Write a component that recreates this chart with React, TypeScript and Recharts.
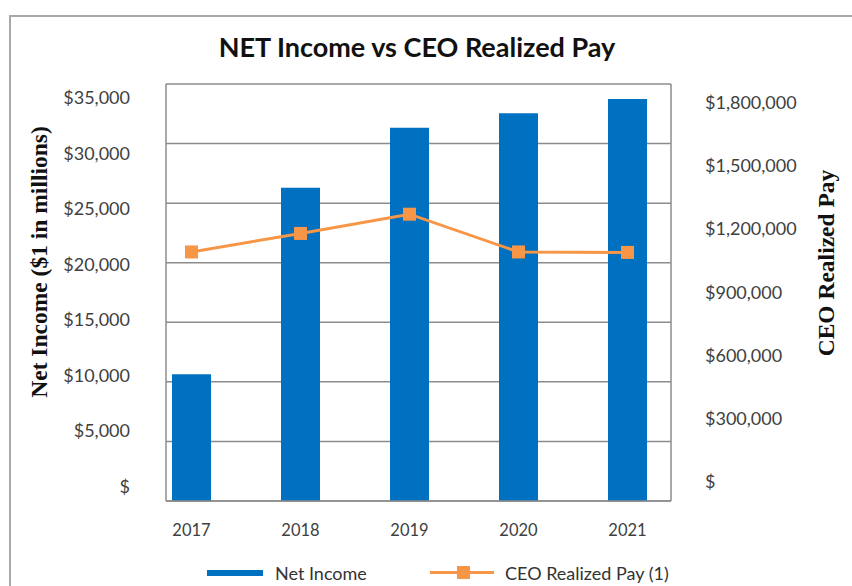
import React from "react";
import { ComposedChart, Bar, Line, XAxis, YAxis, CartesianGrid } from "recharts";

const years = ["2017", "2018", "2019", "2020", "2021"];
const netIncome = [10640, 26290, 31330, 32540, 33740];
const ceoPay = [1075000, 1155000, 1238000, 1075000, 1073000];
const leftTicks = [0, 5000, 10000, 15000, 20000, 25000, 30000, 35000];
const rightTicks = [0, 300000, 600000, 900000, 1200000, 1500000, 1800000];

const data = years.map((y, i) => ({ year: y, net: netIncome[i], ceo: ceoPay[i] }));

const BLUE = "#0070C0";
const ORANGE = "#F79646";
const GRID = "#8c8c8c";
const TICK_COLOR = "#404040";
const SANS = "Lato, 'Open Sans', sans-serif";
const SERIF = "'Liberation Serif', 'DejaVu Serif', serif";

const fmt = (v: number) => (v === 0 ? "$" : "$" + v.toLocaleString("en-US"));

const PLOT_TOP = 84;
const PLOT_H = 417;

const LeftTick = (props: any) => {
  const { x, y, payload } = props;
  const yy = 98 + ((y - PLOT_TOP) * 389) / PLOT_H;
  return (
    <text x={x} y={yy} dy={6} textAnchor="end" fill={TICK_COLOR} fontSize={18} fontFamily={SANS}>
      {fmt(payload.value)}
    </text>
  );
};

const RightTick = (props: any) => {
  const { x, y, payload } = props;
  const yy = 103 + ((y - PLOT_TOP) * 379) / PLOT_H;
  return (
    <text x={x} y={yy} dy={6} textAnchor="start" fill={TICK_COLOR} fontSize={18} fontFamily={SANS}>
      {fmt(payload.value)}
    </text>
  );
};

const XTick = (props: any) => {
  const { x, y, payload } = props;
  return (
    <text x={x} y={y} dy={35} textAnchor="middle" fill={TICK_COLOR} fontSize={16.5} fontFamily={SANS}>
      {payload.value}
    </text>
  );
};

const SquareDot = (props: any) => {
  const { cx, cy, index } = props;
  if (cx == null || cy == null) return null;
  const s = 13;
  return <rect key={"d" + index} x={cx - s / 2} y={cy - s / 2} width={s} height={s} fill={ORANGE} />;
};

export default function App() {
  return (
    <div
      style={{
        position: "absolute",
        left: 0,
        top: 0,
        width: 852,
        height: 586,
        overflow: "hidden",
        background: "#fff",
      }}
    >
      <div
        style={{
          position: "absolute",
          left: 9,
          top: 15,
          width: 900,
          height: 700,
          border: "2px solid #a8a8a8",
          boxSizing: "border-box",
        }}
      />
      <div
        style={{
          position: "absolute",
          left: 0,
          width: 834,
          top: 30,
          textAlign: "center",
          fontFamily: SANS,
          fontWeight: 700,
          fontSize: 27,
          color: "#111",
          lineHeight: "34px",
        }}
      >
        NET Income vs CEO Realized Pay
      </div>
      <div
        style={{
          position: "absolute",
          left: 39,
          top: 262,
          transform: "translate(-50%, -50%) rotate(-90deg)",
          whiteSpace: "nowrap",
          fontFamily: SERIF,
          fontWeight: 700,
          fontSize: 23.5,
          color: "#111",
        }}
      >
        Net Income ($1 in millions)
      </div>
      <div
        style={{
          position: "absolute",
          left: 826,
          top: 263,
          transform: "translate(-50%, -50%) rotate(-90deg)",
          whiteSpace: "nowrap",
          fontFamily: SERIF,
          fontWeight: 700,
          fontSize: 23.5,
          color: "#111",
        }}
      >
        CEO Realized Pay
      </div>
      <div style={{ position: "absolute", left: 0, top: 0 }}>
        <ComposedChart width={852} height={586} data={data} margin={{ top: 84, right: 0, bottom: 55, left: 0 }}>
          <CartesianGrid yAxisId="left" vertical={false} stroke={GRID} strokeWidth={1.5} />
          <XAxis
            dataKey="year"
            height={30}
            padding={{ left: -29, right: -11 }}
            axisLine={{ stroke: GRID, strokeWidth: 1.5 }}
            tickLine={false}
            tickSize={0}
            tickMargin={0}
            tick={<XTick />}
            interval={0}
          />
          <YAxis
            yAxisId="left"
            orientation="left"
            width={166}
            domain={[0, 35000]}
            ticks={leftTicks}
            axisLine={{ stroke: GRID, strokeWidth: 1.5 }}
            tickLine={false}
            tickSize={0}
            tickMargin={36}
            tick={<LeftTick />}
            interval={0}
          />
          <YAxis
            yAxisId="right"
            orientation="right"
            width={181}
            domain={[0, 1800000]}
            ticks={rightTicks}
            axisLine={{ stroke: GRID, strokeWidth: 1.5 }}
            tickLine={false}
            tickSize={0}
            tickMargin={34}
            tick={<RightTick />}
            interval={0}
          />
          <Bar yAxisId="left" dataKey="net" fill={BLUE} barSize={39} isAnimationActive={false} />
          <Line
            yAxisId="right"
            dataKey="ceo"
            stroke={ORANGE}
            strokeWidth={3}
            dot={<SquareDot />}
            activeDot={false}
            isAnimationActive={false}
          />
        </ComposedChart>
      </div>
      <div
        style={{
          position: "absolute",
          top: 560,
          left: 0,
          width: 852,
          height: 26,
          fontFamily: SANS,
          fontSize: 18,
          color: "#333",
        }}
      >
        <div style={{ position: "absolute", left: 207, top: 10, width: 56, height: 6, background: BLUE }} />
        <div style={{ position: "absolute", left: 275, top: 0, lineHeight: "26px", whiteSpace: "nowrap" }}>Net Income</div>
        <div style={{ position: "absolute", left: 430, top: 11, width: 64, height: 3, background: ORANGE }} />
        <div style={{ position: "absolute", left: 457, top: 6, width: 13, height: 13, background: ORANGE }} />
        <div style={{ position: "absolute", left: 505, top: 0, lineHeight: "26px", whiteSpace: "nowrap" }}>
          CEO Realized Pay (1)
        </div>
      </div>
    </div>
  );
}
